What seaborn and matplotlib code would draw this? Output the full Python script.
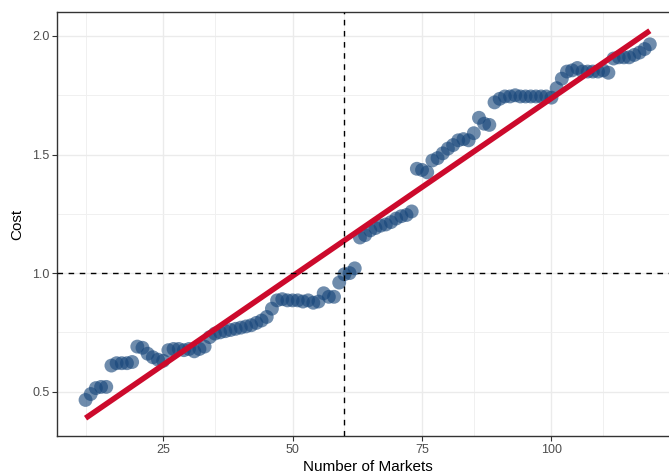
import matplotlib
matplotlib.use("Agg")
import matplotlib.pyplot as plt
import pandas as pd
import seaborn as sns
from matplotlib.ticker import FixedLocator, FormatStrFormatter

# Number of markets (x) and estimated cost (y)
markets = [
	10, 11, 12, 13, 14, 15, 16, 17, 18, 19,
	20, 21, 22, 23, 24, 25, 26, 27, 28, 29,
	30, 31, 32, 33, 34, 35, 36, 37, 38, 39,
	40, 41, 42, 43, 44, 45, 46, 47, 48, 49,
	50, 51, 52, 53, 54, 55, 56, 57, 58, 59,
	60, 61, 62, 63, 64, 65, 66, 67, 68, 69,
	70, 71, 72, 73, 74, 75, 76, 77, 78, 79,
	80, 81, 82, 83, 84, 85, 86, 87, 88, 89,
	90, 91, 92, 93, 94, 95, 96, 97, 98, 99,
	100, 101, 102, 103, 104, 105, 106, 107, 108, 109,
	110, 111, 112, 113, 114, 115, 116, 117, 118, 119,
]
cost = [
	0.465, 0.49, 0.515, 0.52, 0.52, 0.61, 0.62, 0.62, 0.62, 0.625,
	0.69, 0.685, 0.66, 0.645, 0.635, 0.63, 0.675, 0.68, 0.68, 0.675,
	0.68, 0.67, 0.68, 0.69, 0.73, 0.745, 0.75, 0.755, 0.76, 0.765,
	0.77, 0.775, 0.78, 0.79, 0.80, 0.815, 0.85, 0.885, 0.89, 0.885,
	0.885, 0.885, 0.88, 0.885, 0.875, 0.88, 0.915, 0.90, 0.90, 0.96,
	0.995, 1.0, 1.02, 1.15, 1.16, 1.18, 1.19, 1.20, 1.205, 1.215,
	1.23, 1.24, 1.245, 1.26, 1.44, 1.435, 1.425, 1.475, 1.485, 1.505,
	1.525, 1.54, 1.56, 1.565, 1.56, 1.59, 1.655, 1.63, 1.625, 1.72,
	1.735, 1.745, 1.745, 1.75, 1.745, 1.745, 1.745, 1.745, 1.745, 1.745,
	1.74, 1.78, 1.82, 1.85, 1.855, 1.865, 1.85, 1.85, 1.85, 1.85,
	1.855, 1.845, 1.905, 1.91, 1.91, 1.91, 1.92, 1.93, 1.945, 1.965,
]

# Reference lines
VLINE_X = 60
HLINE_Y = 1.0

X_MAJOR = [25, 50, 75, 100]
X_MINOR = [10, 35, 60, 85, 110]
Y_MAJOR = [0.5, 1.0, 1.5, 2.0]
Y_MINOR = [0.75, 1.25, 1.75]

df = pd.DataFrame({"markets": markets, "cost": cost})

sns.set_style("white")
plt.rcParams["font.family"] = ["Liberation Sans", "DejaVu Sans"]

fig = plt.figure(figsize=(6.69, 4.74), dpi=100)
# panel runs a little past the right edge, like the cropped original
ax = fig.add_axes([0.0857, 0.0802, 0.9278, 0.8939])

# grid first so it sits under everything
ax.set_axisbelow(True)
ax.xaxis.set_major_locator(FixedLocator(X_MAJOR))
ax.xaxis.set_minor_locator(FixedLocator(X_MINOR))
ax.yaxis.set_major_locator(FixedLocator(Y_MAJOR))
ax.yaxis.set_minor_locator(FixedLocator(Y_MINOR))
ax.yaxis.set_major_formatter(FormatStrFormatter("%.1f"))
ax.grid(True, which="major", color="#EBEBEB", linewidth=1.0)
ax.grid(True, which="minor", color="#F0F0F0", linewidth=0.7)

sns.scatterplot(
	data=df,
	x="markets",
	y="cost",
	s=100,
	color="#17467A",
	alpha=0.62,
	edgecolor="none",
	ax=ax,
	zorder=3,
)
sns.regplot(
	data=df,
	x="markets",
	y="cost",
	scatter=False,
	ci=None,
	truncate=True,
	line_kws={"color": "#CC0A2C", "linewidth": 4.0, "solid_capstyle": "butt", "zorder": 4},
	ax=ax,
)

ax.axvline(VLINE_X, color="black", linestyle=(0, (4, 4)), linewidth=1.0, zorder=5)
ax.axhline(HLINE_Y, color="black", linestyle=(0, (4, 4)), linewidth=1.0, zorder=5)

ax.set_xlim(4.55, 124.45)
ax.set_ylim(0.313, 2.100)

for side in ["left", "bottom", "top", "right"]:
	ax.spines[side].set_color("#333333")
	ax.spines[side].set_linewidth(1.0)

ax.tick_params(which="major", length=3.5, width=0.8, color="#333333", labelsize=9, labelcolor="#4D4D4D", pad=2)
ax.tick_params(which="minor", length=0)
ax.tick_params(axis="x", bottom=True)
ax.tick_params(axis="y", left=True)

ax.set_xlabel("Number of Markets", fontsize=11, color="black", labelpad=3)
ax.set_ylabel("Cost", fontsize=11, color="black", labelpad=6)

fig.savefig("out.png", dpi=100)
